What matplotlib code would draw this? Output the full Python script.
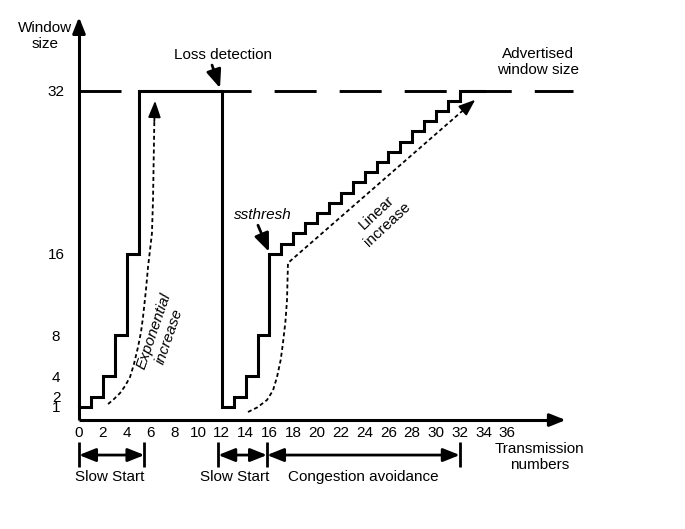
import matplotlib.pyplot as plt

plt.rcParams['font.family'] = ['Liberation Sans', 'DejaVu Sans']

# congestion window per transmission round (steps-post)
rounds = [0, 1, 2, 3, 4, 5, 12, 13, 14, 15, 16, 17, 18, 19, 20, 21, 22, 23,
          24, 25, 26, 27, 28, 29, 30, 31, 32, 34]
cwnd = [1, 2, 4, 8, 16, 32, 1, 2, 4, 8, 16, 17, 18, 19, 20, 21, 22, 23,
        24, 25, 26, 27, 28, 29, 30, 31, 32, 32]
advertised = 32
adv_x = [0, 41.5]

x_ticks = list(range(0, 37, 2))
y_ticks = [1, 2, 4, 8, 16, 32]

# dotted guide curves
exp_x = [2.44, 2.94, 3.45, 3.87, 4.29, 4.62, 4.96, 5.21, 5.38, 5.63, 5.8, 5.97, 6.13, 6.22, 6.33]
exp_y = [1.27, 1.76, 2.35, 3.04, 3.92, 5.2, 6.86, 8.33, 9.8, 12.5, 14.7, 16.4, 18.0, 21.3, 29.0]
exp_tip = (6.39, 31.0)
lin_x = [14.2, 15.0, 15.8, 16.3, 16.64, 16.95, 17.14, 17.35, 17.48, 17.56, 32.6]
lin_y = [0.49, 0.95, 1.67, 2.6, 3.92, 5.6, 7.25, 9.4, 11.47, 15.1, 30.4]
lin_tip = (33.3, 31.1)

phase_edges = [0, 5.5, 11.7, 15.8, 32]
phase_spans = [(0, 1), (2, 3), (3, 4)]
phase_names = ['Slow Start', 'Slow Start', 'Congestion avoidance']
phase_label_x = [2.6, 13.1, 23.9]

fig = plt.figure(figsize=(6.85, 5.29), dpi=100)
ax = fig.add_axes([0, 0, 1, 1])
ax.set_xlim(-79 / 11.9, (685 - 79) / 11.9)
ax.set_ylim((417 - 529) / 10.2, 417 / 10.2)

for s in ['top', 'right']:
    ax.spines[s].set_visible(False)
ax.spines['left'].set_position(('data', 0))
ax.spines['bottom'].set_position(('data', -0.3))
ax.spines['left'].set_bounds(-0.3, 38.2)
ax.spines['bottom'].set_bounds(0, 40.0)
for s in ['left', 'bottom']:
    ax.spines[s].set_linewidth(2.2)
    ax.spines[s].set_capstyle('butt')

ax.set_xticks(x_ticks)
ax.set_xticklabels([str(v) for v in x_ticks])
ax.set_yticks(y_ticks)
ax.set_yticklabels([str(v) for v in y_ticks], ha='center')
ax.tick_params(axis='x', length=0, labelsize=11, pad=4)
ax.tick_params(axis='y', length=0, labelsize=11, pad=16.5)

head = dict(arrowstyle='-|>,head_length=0.95,head_width=0.38', mutation_scale=10,
            color='black', lw=2.2, shrinkA=0, shrinkB=0)
ax.annotate('', xy=(0, 39.2), xytext=(0, 37.5), arrowprops=head)
ax.annotate('', xy=(40.9, -0.3), xytext=(39.5, -0.3), arrowprops=head)

# advertised window
ax.plot(adv_x, [advertised, advertised], color='black', lw=2.1,
        ls=(0, (14.4, 7.9)), solid_capstyle='butt')
# congestion window
ax.plot(rounds, cwnd, drawstyle='steps-post', color='black', lw=2.2,
        solid_joinstyle='miter')

dot = dict(color='black', lw=1.3, ls=(0, (2.2, 1.6)))
ax.plot(exp_x, exp_y, **dot)
ax.plot(lin_x, lin_y, **dot)
small = dict(arrowstyle='-|>,head_length=1.0,head_width=0.38', mutation_scale=10,
             color='black', lw=1.3, shrinkA=0, shrinkB=0)
ax.annotate('', xy=exp_tip, xytext=(exp_x[-1], exp_y[-1]), arrowprops=small)
ax.annotate('', xy=lin_tip, xytext=(lin_x[-1], lin_y[-1]), arrowprops=small)

# phase spans under the axis
span_y = -3.73
span_head = dict(arrowstyle='<|-|>,head_length=1.0,head_width=0.4', mutation_scale=10,
                 color='black', lw=2.0, shrinkA=0, shrinkB=0)
for xe in phase_edges:
    ax.plot([xe, xe], [-2.45, -4.9], color='black', lw=2.0, solid_capstyle='butt')
for (a, b), name, lx in zip(phase_spans, phase_names, phase_label_x):
    ax.annotate('', xy=(phase_edges[b], span_y), xytext=(phase_edges[a], span_y),
                arrowprops=span_head)
    ax.text(lx, -5.9, name, ha='center', va='center', fontsize=11)

ax.text(38.7, -3.9, 'Transmission\nnumbers', ha='center', va='center', fontsize=11)
ax.text(-2.86, 37.35, 'Window\nsize', ha='center', va='center', fontsize=11)
ax.text(38.57, 34.8, 'Advertised\nwindow size', ha='center', va='center', fontsize=11)
ax.text(12.1, 35.5, 'Loss detection', ha='center', va='center', fontsize=11)
pointer = dict(arrowstyle='-|>,head_length=1.1,head_width=0.45', mutation_scale=10,
               color='black', lw=2.0, shrinkA=0, shrinkB=0)
ax.annotate('', xy=(11.85, 32.25), xytext=(11.18, 34.5), arrowprops=pointer)
ax.text(15.46, 19.8, 'ssthresh', ha='center', va='center', fontsize=11, style='italic')
ax.annotate('', xy=(15.97, 16.2), xytext=(15.04, 18.8), arrowprops=pointer)
ax.text(6.97, 8.14, 'Exponential\nincrease', ha='center', va='center', fontsize=11,
        style='italic', rotation=71, rotation_mode='anchor')
ax.text(25.46, 19.5, 'Linear\nincrease', ha='center', va='center', fontsize=11,
        rotation=43, rotation_mode='anchor')

fig.savefig('out.png', dpi=100)
